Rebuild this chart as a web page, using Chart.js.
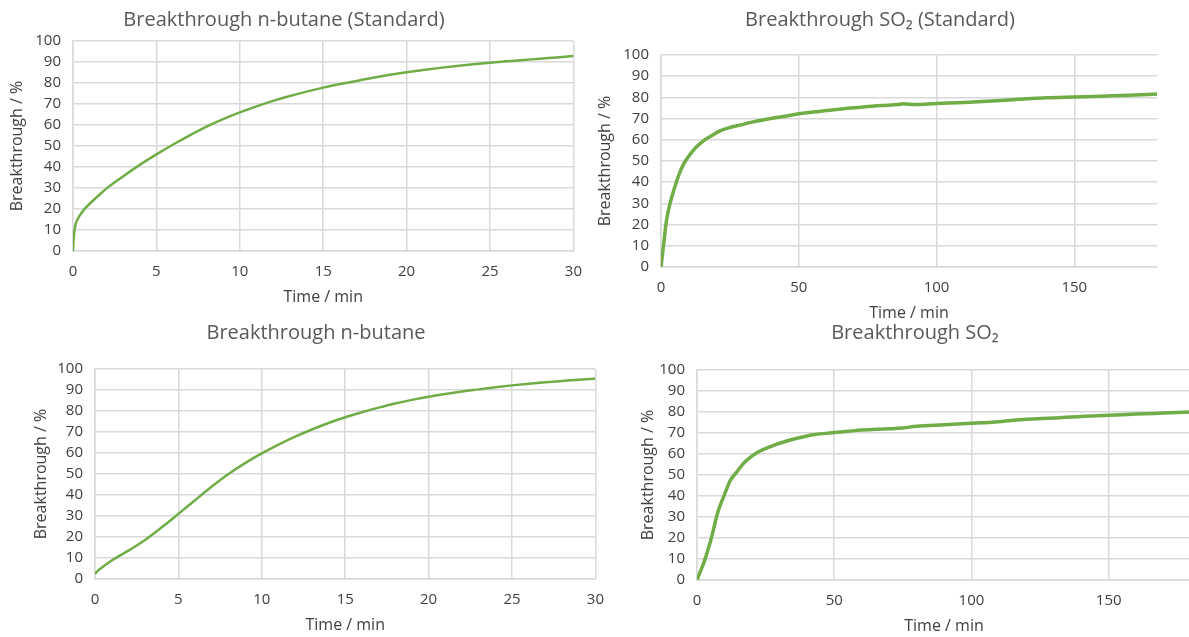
<!DOCTYPE html>
<html lang="en">
<head>
  <meta charset="UTF-8">
  <title>Breakthrough curves</title>
  <script src="https://cdn.jsdelivr.net/npm/chart.js"></script>
  <style>
    html, body {
      margin: 0;
      padding: 0;
      background: #fff;
      overflow: hidden;
    }
    body {
      position: relative;
      width: 1189px;
      height: 637px;
    }
    canvas {
      position: absolute;
    }
  </style>
</head>
<body>
  <canvas id="butaneStdChart"></canvas>
  <canvas id="so2StdChart"></canvas>
  <canvas id="butaneChart"></canvas>
  <canvas id="so2Chart"></canvas>

  <script>
    // n-butane, standard material (time / min, breakthrough / %)
    const butaneStdTime = [0, 0.03, 0.08, 0.15, 0.3, 0.5, 0.75, 1, 1.5, 2, 3, 4, 5, 6, 7, 8, 9, 10,
      11, 12, 13, 14, 15, 16, 17, 18, 19, 20, 21, 22, 23, 24, 25, 26, 27, 28, 29, 30];
    const butaneStdValue = [0, 5, 9, 12.5, 15.5, 18, 20.5, 22.5, 26.2, 29.7, 35.5, 41, 46, 50.7, 55.1, 59.2, 62.8, 66,
      68.9, 71.5, 73.8, 75.9, 77.8, 79.5, 81, 82.5, 83.9, 85.1, 86.2, 87.2, 88.1, 88.9, 89.6, 90.3, 90.9, 91.6, 92.2, 92.9];

    // SO2, standard material
    const so2StdTime = [0, 0.85, 2, 3.3, 4.5, 6.3, 8.1, 10.5, 12.9, 15.3, 17.8, 21.4, 25, 28.6, 32.2, 38.3, 44.3,
      50, 56, 62, 70, 80, 86, 88, 92, 100, 110, 120, 130, 140, 150, 160, 170, 180];
    const so2StdValue = [0, 9.5, 22, 30, 35.6, 42.8, 48.3, 53, 56.7, 59.4, 61.5, 64.2, 65.8, 66.9, 68.1, 69.7, 71,
      72.3, 73.2, 74.1, 75.1, 76.2, 76.6, 77, 76.6, 77.1, 77.6, 78.3, 79.1, 79.8, 80.2, 80.6, 81, 81.6];

    // n-butane
    const butaneTime = [0, 0.25, 0.5, 1, 2, 3, 4, 5, 6, 7, 8, 9, 10, 11, 12, 13, 14, 15,
      16, 17, 18, 19, 20, 21, 22, 23, 24, 25, 26, 27, 28, 29, 30];
    const butaneValue = [2.5, 4.5, 6, 8.8, 13.5, 18.6, 24.6, 31, 37.5, 44, 50, 55.2, 59.8, 64, 67.8, 71.2, 74.3, 77,
      79.4, 81.6, 83.6, 85.3, 86.8, 88.1, 89.3, 90.3, 91.3, 92.2, 93, 93.7, 94.3, 94.9, 95.4];

    // SO2
    const so2Time = [0, 1.2, 2.4, 3.6, 4.9, 6.1, 7.3, 8.5, 9.7, 10.9, 12.1, 14.6, 17, 19.4, 21.8, 24.3, 27.9,
      31.6, 36.4, 42.5, 50, 55, 60, 70, 75, 80, 90, 100, 110, 120, 130, 140, 150, 160, 170, 180];
    const so2Value = [0, 4, 7.9, 12.7, 18.3, 24.6, 31, 35.7, 39.7, 43.7, 47.3, 51.6, 55.6, 58.4, 60.6, 62.2, 64.1,
      65.7, 67.5, 69.2, 70.2, 70.8, 71.4, 72, 72.4, 73.2, 73.9, 74.6, 75.4, 76.5, 77.1, 77.9, 78.4, 79, 79.5, 80];

    // axis ticks
    const shortRunTicks = [0, 5, 10, 15, 20, 25, 30];
    const longRunTicks = [0, 50, 100, 150];
    const percentTicks = [0, 10, 20, 30, 40, 50, 60, 70, 80, 90, 100];

    const LINE_GREEN = '#70ad47';
    const GRID_GREY = '#d9d9d9';
    const TEXT_DARK = '#404040';

    Chart.defaults.font.family = "'Open Sans', sans-serif";

    function makePanel(canvasId, p) {
      const canvas = document.getElementById(canvasId);
      canvas.width = p.box.width;
      canvas.height = p.box.height;
      canvas.style.left = p.box.left + 'px';
      canvas.style.top = p.box.top + 'px';

      return new Chart(canvas, {
        type: 'line',
        data: {
          datasets: [{
            data: p.time.map((t, i) => ({ x: t, y: p.values[i] })),
            borderColor: LINE_GREEN,
            borderWidth: p.lineWidth,
            pointRadius: 0,
            cubicInterpolationMode: 'monotone',
            fill: false
          }]
        },
        options: {
          responsive: false,
          animation: false,
          layout: { padding: { left: p.padLeft, right: 20, top: 0, bottom: 0 } },
          plugins: {
            legend: { display: false },
            tooltip: { enabled: false },
            title: {
              display: true,
              text: p.title,
              color: '#595959',
              font: { size: 20, weight: 'normal' },
              padding: p.titlePad
            }
          },
          scales: {
            x: {
              type: 'linear',
              min: 0,
              max: p.xMax,
              afterBuildTicks: s => { s.ticks = p.xTicks.map(v => ({ value: v })); },
              afterFit: s => { s.height = 60; },
              grid: { color: GRID_GREY, lineWidth: 1.5, drawTicks: false },
              border: { color: GRID_GREY, width: 1.5 },
              ticks: { color: TEXT_DARK, font: { size: 15 }, padding: 12, maxRotation: 0 },
              title: {
                display: true,
                text: 'Time / min',
                color: TEXT_DARK,
                font: { size: 16 },
                padding: { top: 0, bottom: 4 }
              }
            },
            y: {
              min: 0,
              max: 100,
              afterBuildTicks: s => { s.ticks = percentTicks.map(v => ({ value: v })); },
              afterFit: s => { s.width = p.yWidth; },
              grid: { color: GRID_GREY, lineWidth: 1.5, drawTicks: false },
              border: { color: GRID_GREY, width: 1.5 },
              ticks: { color: TEXT_DARK, font: { size: 15 }, padding: 12 },
              title: {
                display: true,
                text: 'Breakthrough / %',
                color: TEXT_DARK,
                font: { size: 16 },
                padding: { top: p.yTitlePad, bottom: 0 }
              }
            }
          }
        }
      });
    }

    makePanel('butaneStdChart', {
      box: { left: -6, top: 0, width: 600, height: 311 },
      title: 'Breakthrough n-butane (Standard)',
      time: butaneStdTime, values: butaneStdValue,
      xMax: 30, xTicks: shortRunTicks, lineWidth: 2.5,
      padLeft: 0, yWidth: 79, yTitlePad: 13.4,
      titlePad: { top: 8, bottom: 9 }
    });

    makePanel('so2StdChart', {
      box: { left: 590, top: 0, width: 587, height: 327 },
      title: 'Breakthrough SO₂ (Standard)',
      time: so2StdTime, values: so2StdValue,
      xMax: 180, xTicks: longRunTicks, lineWidth: 3.5,
      padLeft: 13, yWidth: 58, yTitlePad: -7.6,
      titlePad: { top: 8, bottom: 23 }
    });

    makePanel('butaneChart', {
      box: { left: 20, top: 310, width: 596, height: 329 },
      title: 'Breakthrough n-butane',
      time: butaneTime, values: butaneValue,
      xMax: 30, xTicks: shortRunTicks, lineWidth: 2.5,
      padLeft: 16, yWidth: 59, yTitlePad: -4.6,
      titlePad: { top: 11, bottom: 24 }
    });

    makePanel('so2Chart', {
      box: { left: 630, top: 310, width: 581, height: 330 },
      title: 'Breakthrough SO₂',
      time: so2Time, values: so2Value,
      xMax: 180, xTicks: longRunTicks, lineWidth: 3.5,
      padLeft: 9, yWidth: 58, yTitlePad: -0.6,
      titlePad: { top: 11, bottom: 25 }
    });
  </script>
</body>
</html>
